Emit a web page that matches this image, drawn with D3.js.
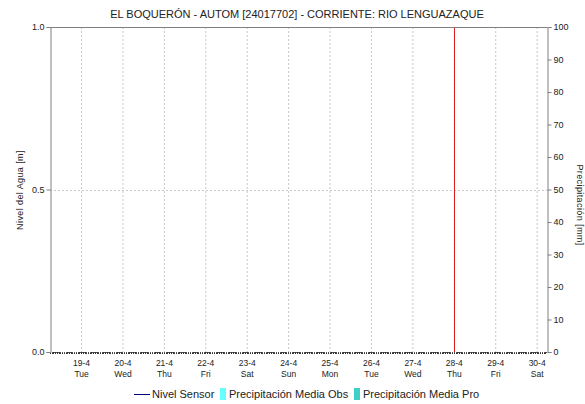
<!DOCTYPE html>
<html><head><meta charset="utf-8">
<script src="https://cdn.jsdelivr.net/npm/d3@7"></script>
<style>body{margin:0;background:#fff}svg{display:block}text{font-family:"Liberation Sans",Arial,sans-serif}</style>
</head><body>
<script>
const title = "EL BOQUERÓN - AUTOM [24017702] - CORRIENTE: RIO LENGUAZAQUE";
const dayLabels = ["19-4","20-4","21-4","22-4","23-4","24-4","25-4","26-4","27-4","28-4","29-4","30-4"];
const weekdayLabels = ["Tue","Wed","Thu","Fri","Sat","Sun","Mon","Tue","Wed","Thu","Fri","Sat"];
const leftTicks = [0, 0.5, 1.0];
const rightTicks = [0,10,20,30,40,50,60,70,80,90,100];
const nivelSensor = [];          // no data in the period
const precipObs = [];            // no data
const precipPro = [];            // no data
const markerDate = "2022-04-28T00:00";
const domainStart = "2022-04-18T06:00";
const domainEnd = "2022-04-30T06:00";
const legendItems = ["Nivel Sensor","Precipitación Media Obs","Precipitación Media Pro"];

const W=585,H=404, L=50, R=547, T=27, B=352;
const svg=d3.select("body").append("svg").attr("width",W).attr("height",H);
const x=d3.scaleTime().domain([new Date(domainStart),new Date(domainEnd)]).range([L,R]);
const y=d3.scaleLinear().domain([0,1]).range([B,T]);
const y2=d3.scaleLinear().domain([0,100]).range([B,T]);
const days=dayLabels.map((d,i)=>new Date(2022,3,19+i));

// grid
svg.append("g").selectAll("line").data(days).join("line")
  .attr("x1",d=>x(d)+0.5).attr("x2",d=>x(d)+0.5).attr("y1",T).attr("y2",B)
  .attr("stroke","#c8c8c8").attr("stroke-dasharray","2,2");
svg.append("line").attr("x1",L).attr("x2",R).attr("y1",Math.round(y(0.5))+0.5).attr("y2",Math.round(y(0.5))+0.5)
  .attr("stroke","#c8c8c8").attr("stroke-dasharray","2,2");

// bars (none)
svg.append("g").selectAll("rect").data(precipObs).join("rect")
  .attr("x",d=>x(new Date(d.t))).attr("y",d=>y2(d.v)).attr("width",3).attr("height",d=>B-y2(d.v)).attr("fill","#66ffff");
svg.append("g").selectAll("rect").data(precipPro).join("rect")
  .attr("x",d=>x(new Date(d.t))).attr("y",d=>y2(d.v)).attr("width",3).attr("height",d=>B-y2(d.v)).attr("fill","#3fcfc9");
svg.append("path").datum(nivelSensor).attr("fill","none").attr("stroke","#000080")
  .attr("d",d3.line().x(d=>x(new Date(d.t))).y(d=>y(d.v)));

// marker
svg.append("line").attr("x1",Math.round(x(new Date(markerDate)))+0.5).attr("x2",Math.round(x(new Date(markerDate)))+0.5)
  .attr("y1",T).attr("y2",B).attr("stroke","#e02020").attr("stroke-width",1);

// frame
svg.append("line").attr("x1",L).attr("x2",R).attr("y1",T+0.5).attr("y2",T+0.5).attr("stroke","#808080");
const hours=d3.timeHour.every(1).range(x.domain()[0],x.domain()[1]);
svg.append("g").selectAll("line").data(hours).join("line")
  .attr("x1",d=>Math.round(x(d))+0.5).attr("x2",d=>Math.round(x(d))+0.5).attr("y1",B).attr("y2",B+2)
  .attr("stroke","#333");
svg.append("line").attr("x1",L).attr("x2",R).attr("y1",B+0.5).attr("y2",B+0.5).attr("stroke","#555").attr("stroke-dasharray","1,1");

const gl=svg.append("g").attr("transform",`translate(${L+0.5},0)`)
  .call(d3.axisLeft(y).tickValues(leftTicks).tickFormat(d3.format(".1f")).tickSize(4).tickPadding(2));
const gr=svg.append("g").attr("transform",`translate(${R+0.5},0)`)
  .call(d3.axisRight(y2).tickValues(rightTicks).tickSize(4).tickPadding(2));
[gl,gr].forEach(g=>{g.select(".domain").attr("stroke","#808080");
  g.selectAll(".tick line").attr("stroke","#808080");
  g.selectAll("text").attr("font-size",9).attr("fill","#222").attr("font-family","Liberation Sans, Arial, sans-serif");});

// x labels
const xl=svg.append("g");
xl.selectAll("text.d").data(days).join("text").attr("class","d")
  .attr("x",d=>x(d)+0.5).attr("y",366).attr("text-anchor","middle").attr("font-size",8.5).attr("fill","#222")
  .text((d,i)=>dayLabels[i]);
xl.selectAll("text.w").data(days).join("text").attr("class","w")
  .attr("x",d=>x(d)+0.5).attr("y",377).attr("text-anchor","middle").attr("font-size",8.5).attr("fill","#222")
  .text((d,i)=>weekdayLabels[i]);

// title
svg.append("text").attr("x",297).attr("y",18).attr("text-anchor","middle").attr("font-size",11).attr("fill","#222").text(title);
// y labels
svg.append("text").attr("transform","translate(23,190) rotate(-90)").attr("text-anchor","middle")
  .attr("font-size",9).attr("fill","#222").attr("letter-spacing",0.4).text("Nivel del Agua [m]");
svg.append("text").attr("transform","translate(577,205) rotate(90)").attr("text-anchor","middle")
  .attr("font-size",9).attr("fill","#222").attr("letter-spacing",0.4).text("Precipitación [mm]");

// legend
const lg=svg.append("g").attr("font-size",11).attr("fill","#222");
lg.append("line").attr("x1",134).attr("x2",150).attr("y1",394.5).attr("y2",394.5).attr("stroke","#000080");
lg.append("text").attr("x",152).attr("y",398).text(legendItems[0]);
lg.append("rect").attr("x",220).attr("y",388).attr("width",6).attr("height",12).attr("fill","#66ffff");
lg.append("text").attr("x",229).attr("y",398).text(legendItems[1]);
lg.append("rect").attr("x",354).attr("y",388).attr("width",6).attr("height",12).attr("fill","#3fcfc9");
lg.append("text").attr("x",363).attr("y",398).text(legendItems[2]);
</script>
</body></html>
